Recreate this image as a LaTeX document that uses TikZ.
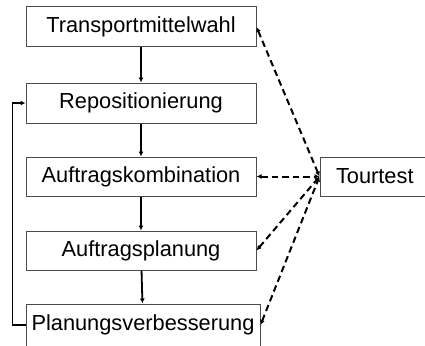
\documentclass[tikz,border=0pt]{standalone}
\usepackage{fontspec}
\setmainfont{Liberation Sans}
\usetikzlibrary{arrows.meta}
\begin{document}
\begin{tikzpicture}[x=1pt,y=-1pt,
  box/.style={draw=black!70,line width=1pt,minimum height=39pt,inner sep=0pt,font=\fontsize{21.8}{25}\selectfont},
  flow/.style={line width=1.8pt,-{Latex[length=5pt,width=5pt]}},
  dashlink/.style={line width=2pt,dash pattern=on 6.5pt off 4pt,{Latex[length=5pt,width=5pt]}-{Latex[length=5pt,width=5pt]}}]
\useasboundingbox (0,0) rectangle (425,345);
\node[box,minimum width=230pt,minimum height=40pt] (T) at (141,27) {Transportmittelwahl};
\node[box,minimum width=230pt,minimum height=40pt] (R) at (141,103) {Repositionierung};
\node[box,minimum width=230pt] (K) at (141,176.5) {Auftragskombination};
\node[box,minimum width=230pt] (P) at (141,250.5) {Auftragsplanung};
\node[box,minimum width=234pt,minimum height=42pt] (V) at (143,325) {Planungsverbesserung};
\node[box,minimum width=112pt,text width=112pt,align=left] (X) at (376,176.5) {\hspace*{16pt}Tourtest};
\draw[flow] (T) -- (R);
\draw[flow] (R) -- (K);
\draw[flow] (K) -- (P);
\draw[flow] (P) -- (V);
\draw[flow] (V.west) -- ++(-13,0) |- (R.west);
\draw[dashlink] (T.east) -- (X.west);
\draw[dashlink] (K.east) -- (X.west);
\draw[dashlink] (P.east) -- (X.west);
\draw[dashlink] (V.east) -- (X.west);
\end{tikzpicture}
\end{document}
